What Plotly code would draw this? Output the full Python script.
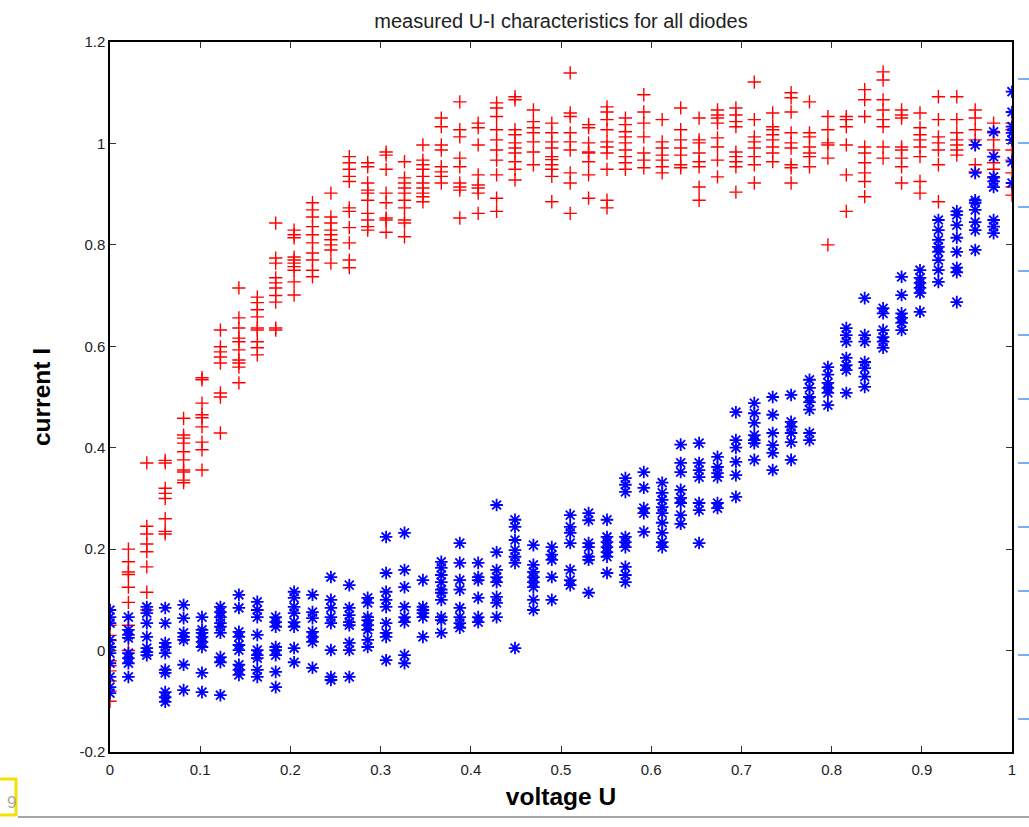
import plotly.graph_objects as go

# ---- data ----
voltage = [0.0, 0.0204, 0.0408, 0.0612, 0.0816, 0.102, 0.1224, 0.1429, 0.1633, 0.1837,
           0.2041, 0.2245, 0.2449, 0.2653, 0.2857, 0.3061, 0.3265, 0.3469, 0.3673, 0.3878,
           0.4082, 0.4286, 0.449, 0.4694, 0.4898, 0.5102, 0.5306, 0.551, 0.5714, 0.5918,
           0.6122, 0.6327, 0.6531, 0.6735, 0.6939, 0.7143, 0.7347, 0.7551, 0.7755, 0.7959,
           0.8163, 0.8367, 0.8571, 0.8776, 0.898, 0.9184, 0.9388, 0.9592, 0.9796, 1.0]

current_red = [
    [0.05, 0.03, 0.0, -0.02, -0.04, -0.06, -0.08, -0.1, 0.02, -0.03],
    [0.2, 0.175, 0.155, 0.15, 0.125, 0.095, 0.05, 0.0],
    [0.37, 0.245, 0.23, 0.21, 0.195, 0.165, 0.115, 0.08],
    [0.375, 0.37, 0.32, 0.31, 0.30, 0.26, 0.235, 0.23],
    [0.458, 0.425, 0.419, 0.409, 0.392, 0.376, 0.356, 0.352, 0.336, 0.331],
    [0.538, 0.534, 0.488, 0.465, 0.459, 0.441, 0.411, 0.396, 0.356],
    [0.632, 0.599, 0.589, 0.579, 0.567, 0.508, 0.500, 0.429],
    [0.715, 0.656, 0.636, 0.616, 0.609, 0.593, 0.573, 0.567, 0.559, 0.528],
    [0.697, 0.686, 0.672, 0.658, 0.636, 0.632, 0.609, 0.597, 0.583],
    [0.843, 0.774, 0.764, 0.735, 0.725, 0.715, 0.70, 0.687, 0.636, 0.632],
    [0.829, 0.820, 0.814, 0.776, 0.770, 0.764, 0.757, 0.75, 0.727, 0.701],
    [0.883, 0.869, 0.855, 0.836, 0.820, 0.804, 0.784, 0.770, 0.750, 0.737],
    [0.902, 0.855, 0.843, 0.829, 0.820, 0.810, 0.800, 0.790, 0.764],
    [0.974, 0.962, 0.949, 0.935, 0.925, 0.873, 0.866, 0.834, 0.804, 0.770, 0.755],
    [0.962, 0.954, 0.922, 0.908, 0.902, 0.888, 0.862, 0.849, 0.836, 0.829],
    [0.983, 0.977, 0.949, 0.902, 0.883, 0.853, 0.849, 0.825],
    [0.964, 0.932, 0.922, 0.912, 0.902, 0.888, 0.873, 0.849, 0.843, 0.816],
    [0.997, 0.967, 0.958, 0.949, 0.935, 0.922, 0.912, 0.902, 0.895, 0.885],
    [1.05, 1.033, 0.997, 0.987, 0.954, 0.944, 0.935, 0.922],
    [1.082, 1.027, 1.013, 0.971, 0.954, 0.922, 0.914, 0.908, 0.853],
    [1.040, 1.031, 0.997, 0.938, 0.918, 0.912, 0.902, 0.862],
    [1.080, 1.070, 1.053, 1.027, 1.007, 0.987, 0.967, 0.938, 0.892, 0.866],
    [1.092, 1.086, 1.027, 1.017, 1.001, 0.991, 0.981, 0.964, 0.949, 0.928],
    [1.066, 1.043, 1.031, 1.021, 1.003, 0.983, 0.958],
    [1.040, 1.021, 1.003, 0.991, 0.974, 0.968, 0.958, 0.949, 0.935, 0.885],
    [1.139, 1.060, 1.053, 1.021, 1.003, 0.987, 0.942, 0.922, 0.862],
    [1.037, 1.031, 1.001, 0.983, 0.981, 0.964, 0.938, 0.892],
    [1.072, 1.062, 1.047, 1.027, 1.003, 0.993, 0.981, 0.949, 0.888, 0.873],
    [1.05, 1.037, 1.023, 1.013, 1.001, 0.987, 0.974, 0.962, 0.949],
    [1.096, 1.062, 1.040, 1.013, 0.981, 0.967, 0.952],
    [1.047, 1.003, 0.991, 0.977, 0.967, 0.954, 0.942],
    [1.070, 1.027, 1.007, 0.991, 0.977, 0.958, 0.952],
    [1.050, 1.007, 1.001, 0.981, 0.964, 0.954, 0.914, 0.888],
    [1.066, 1.056, 1.050, 1.040, 1.011, 0.993, 0.967, 0.934],
    [1.070, 1.056, 1.043, 1.033, 0.983, 0.974, 0.964, 0.954, 0.904],
    [1.121, 1.047, 1.013, 1.003, 0.991, 0.974, 0.958, 0.922],
    [1.060, 1.033, 1.027, 1.017, 1.007, 0.993, 0.981, 0.964],
    [1.100, 1.090, 1.062, 1.021, 1.001, 0.991, 0.958, 0.952, 0.922],
    [1.082, 1.021, 1.013, 0.993, 0.981, 0.974, 0.954],
    [1.053, 1.027, 1.001, 0.997, 0.971, 0.800],
    [1.053, 1.047, 1.033, 0.997, 0.938, 0.866],
    [1.106, 1.086, 1.053, 0.993, 0.981, 0.962, 0.942, 0.925, 0.895],
    [1.141, 1.125, 1.086, 1.066, 1.047, 1.033, 0.993, 0.971],
    [1.066, 1.056, 1.050, 0.993, 0.987, 0.971, 0.954, 0.922],
    [1.060, 1.031, 1.017, 1.007, 0.993, 0.974, 0.925, 0.902],
    [1.092, 1.047, 1.013, 1.001, 0.987, 0.958, 0.885],
    [1.092, 1.047, 1.021, 1.007, 0.997, 0.987, 0.977],
    [1.066, 1.050, 1.027, 1.007, 0.997, 0.958, 0.944],
    [1.040, 1.021, 1.007, 0.987, 0.974, 0.962, 0.949, 0.932],
    [1.040, 1.027, 1.007, 0.987, 0.967, 0.942, 0.914, 0.898],
]

current_blue = [
    [0.080, 0.066, 0.054, 0.021, 0.007, -0.005, -0.025, -0.052, -0.072, -0.084],
    [0.066, 0.041, 0.031, 0.025, -0.005, -0.015, -0.025, -0.052],
    [0.086, 0.074, 0.054, 0.027, 0.005, -0.003, -0.009],
    [0.084, 0.054, 0.015, 0.007, -0.005, -0.038, -0.044, -0.082, -0.092, -0.101],
    [0.090, 0.064, 0.035, 0.027, 0.021, -0.028, -0.078],
    [0.066, 0.041, 0.035, 0.027, 0.017, 0.007, -0.044, -0.082],
    [0.086, 0.076, 0.066, 0.054, 0.047, 0.035, -0.013, -0.023, -0.088],
    [0.110, 0.084, 0.037, 0.027, 0.011, 0.001, -0.028, -0.038, -0.048],
    [0.096, 0.080, 0.066, 0.031, 0.001, -0.009, -0.015, -0.038, -0.052],
    [0.066, 0.056, 0.047, 0.007, 0.001, -0.009, -0.042, -0.072],
    [0.116, 0.104, 0.086, 0.074, 0.056, 0.047, 0.005, -0.023],
    [0.110, 0.076, 0.064, 0.037, 0.027, 0.017, -0.034],
    [0.145, 0.100, 0.084, 0.066, 0.054, 0.001, -0.052, -0.058],
    [0.129, 0.084, 0.070, 0.056, 0.050, 0.015, 0.001, -0.052],
    [0.104, 0.094, 0.066, 0.060, 0.050, 0.041, 0.021, 0.007],
    [0.224, 0.153, 0.116, 0.100, 0.086, 0.054, 0.035, 0.027, -0.019],
    [0.232, 0.159, 0.125, 0.086, 0.066, 0.056, -0.009, -0.025],
    [0.139, 0.086, 0.080, 0.074, 0.066, 0.027],
    [0.175, 0.163, 0.149, 0.135, 0.120, 0.114, 0.100, 0.066, 0.060, 0.035],
    [0.212, 0.173, 0.139, 0.120, 0.084, 0.066, 0.054, 0.045],
    [0.173, 0.145, 0.139, 0.104, 0.066, 0.056],
    [0.287, 0.194, 0.159, 0.145, 0.135, 0.106, 0.094, 0.066],
    [0.258, 0.244, 0.218, 0.198, 0.185, 0.173, 0.005],
    [0.208, 0.169, 0.155, 0.145, 0.135, 0.125, 0.100, 0.080],
    [0.204, 0.189, 0.179, 0.145, 0.100],
    [0.267, 0.244, 0.232, 0.212, 0.159, 0.139, 0.129],
    [0.271, 0.257, 0.212, 0.204, 0.185, 0.179, 0.114],
    [0.258, 0.224, 0.214, 0.204, 0.194, 0.185, 0.153],
    [0.340, 0.327, 0.313, 0.224, 0.214, 0.204, 0.165, 0.149, 0.135],
    [0.352, 0.321, 0.281, 0.271, 0.234],
    [0.331, 0.311, 0.297, 0.283, 0.271, 0.252, 0.232, 0.214, 0.204],
    [0.406, 0.370, 0.352, 0.317, 0.301, 0.291, 0.267, 0.25],
    [0.409, 0.370, 0.356, 0.342, 0.291, 0.277, 0.212],
    [0.382, 0.362, 0.350, 0.342, 0.291, 0.281],
    [0.470, 0.415, 0.400, 0.372, 0.346, 0.303],
    [0.488, 0.468, 0.449, 0.425, 0.415, 0.409, 0.376],
    [0.500, 0.465, 0.429, 0.405, 0.390, 0.356],
    [0.504, 0.451, 0.441, 0.429, 0.411, 0.376],
    [0.534, 0.518, 0.500, 0.490, 0.475, 0.429, 0.415],
    [0.559, 0.544, 0.528, 0.518, 0.508, 0.484],
    [0.636, 0.622, 0.609, 0.577, 0.563, 0.553, 0.508],
    [0.695, 0.622, 0.609, 0.569, 0.557, 0.540, 0.520],
    [0.675, 0.665, 0.632, 0.618, 0.609, 0.597],
    [0.737, 0.701, 0.665, 0.656, 0.646, 0.632],
    [0.750, 0.735, 0.725, 0.715, 0.705, 0.668],
    [0.849, 0.829, 0.810, 0.796, 0.786, 0.770, 0.750, 0.727],
    [0.866, 0.859, 0.839, 0.814, 0.786, 0.755, 0.746, 0.687],
    [0.997, 0.942, 0.888, 0.883, 0.869, 0.845, 0.829, 0.790],
    [1.023, 0.974, 0.934, 0.925, 0.914, 0.849, 0.836, 0.823],
    [1.102, 1.062, 1.033, 1.021, 1.007, 0.964, 0.922],
]

x_ticks = [0, 0.1, 0.2, 0.3, 0.4, 0.5, 0.6, 0.7, 0.8, 0.9, 1]
x_tick_text = ["0", "0.1", "0.2", "0.3", "0.4", "0.5", "0.6", "0.7", "0.8", "0.9", "1"]
y_ticks = [-0.2, 0, 0.2, 0.4, 0.6, 0.8, 1, 1.2]
y_tick_text = ["-0.2", "0", "0.2", "0.4", "0.6", "0.8", "1", "1.2"]


def flatten(xs, groups):
    fx, fy = [], []
    for xv, g in zip(xs, groups):
        for v in g:
            fx.append(xv)
            fy.append(v)
    return fx, fy


rx, ry = flatten(voltage, current_red)
bx, by = flatten(voltage, current_blue)

FONT = "Liberation Sans, Arial, Helvetica, sans-serif"

fig = go.Figure()
fig.add_trace(go.Scatter(
    x=rx, y=ry, mode="markers", name="forward",
    marker=dict(symbol="cross-thin", size=9.5, color="#ff0000",
                line=dict(color="#ff0000", width=1.4)),
))
fig.add_trace(go.Scatter(
    x=bx, y=by, mode="markers", name="other",
    marker=dict(symbol="asterisk", size=10.5, color="#0000ff",
                line=dict(color="#0000ff", width=1.8)),
))

axis_common = dict(
    showgrid=False, zeroline=False, showline=True, mirror="ticks",
    linecolor="#000000", linewidth=1.5, ticks="inside", ticklen=6,
    tickcolor="#333333", tickwidth=1.2,
    tickfont=dict(family=FONT, size=15, color="#222222"),
)

fig.update_layout(
    width=1029, height=827,
    margin=dict(l=110, r=17, t=42, b=75),
    paper_bgcolor="white", plot_bgcolor="white",
    showlegend=False,
    title=dict(text="measured U-I characteristics for all diodes",
               x=0.5, xref="paper", xanchor="center", y=0.975, yanchor="middle",
               font=dict(family=FONT, size=20, color="#222222")),
    xaxis=dict(range=[0, 1], tickvals=x_ticks, ticktext=x_tick_text,
               ticklabelstandoff=3,
               title=dict(text="<b>voltage U</b>", standoff=11,
                          font=dict(family=FONT, size=24.5, color="#000000")),
               **axis_common),
    yaxis=dict(range=[-0.2, 1.2], tickvals=y_ticks, ticktext=y_tick_text,
               title=dict(text="<b>current I</b>", standoff=22,
                          font=dict(family=FONT, size=24.5, color="#000000")),
               **axis_common),
)

# screenshot decorations: light-blue dashes at right edge, yellow box, bottom line
for i in range(11):
    yp = (827 - 79 - 64 * i - 75) / 710
    fig.add_shape(type="line", xref="paper", yref="paper",
                  x0=(1018 - 110) / 902, x1=(1029 - 110) / 902, y0=yp, y1=yp,
                  line=dict(color="#4499ee", width=1.5))
fig.add_shape(type="line", xref="paper", yref="paper",
              x0=(18 - 110) / 902, x1=(1029 - 110) / 902, y0=(827 - 817 - 75) / 710,
              y1=(827 - 817 - 75) / 710, line=dict(color="#888888", width=1.5))
fig.add_shape(type="rect", xref="paper", yref="paper",
              x0=(-5 - 110) / 902, x1=(16 - 110) / 902,
              y0=(827 - 815 - 75) / 710, y1=(827 - 779 - 75) / 710,
              line=dict(color="#f2e200", width=3), fillcolor="white")
fig.add_annotation(xref="paper", yref="paper", x=(5 - 110) / 902, y=(827 - 797 - 75) / 710,
                   yanchor="middle", yshift=-6,
                   text="9", showarrow=False,
                   font=dict(family=FONT, size=17, color="#aaaaaa"))

fig.write_html("out.html")
